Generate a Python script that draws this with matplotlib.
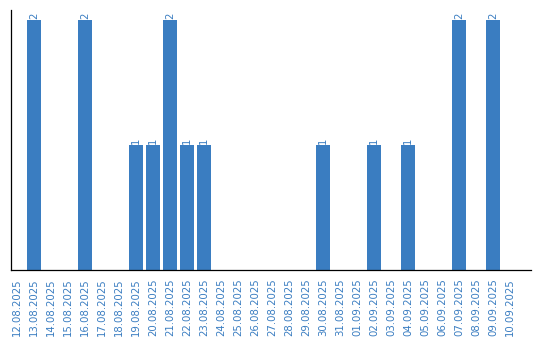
import matplotlib
matplotlib.use("Agg")
import matplotlib.pyplot as plt

dates = ["12.08.2025", "13.08.2025", "14.08.2025", "15.08.2025", "16.08.2025",
         "17.08.2025", "18.08.2025", "19.08.2025", "20.08.2025", "21.08.2025",
         "22.08.2025", "23.08.2025", "24.08.2025", "25.08.2025", "26.08.2025",
         "27.08.2025", "28.08.2025", "29.08.2025", "30.08.2025", "31.08.2025",
         "01.09.2025", "02.09.2025", "03.09.2025", "04.09.2025", "05.09.2025",
         "06.09.2025", "07.09.2025", "08.09.2025", "09.09.2025", "10.09.2025"]
counts = [0, 2, 0, 0, 2, 0, 0, 1, 1, 2, 1, 1, 0, 0, 0,
          0, 0, 0, 1, 0, 0, 1, 0, 1, 0, 0, 2, 0, 2, 0]

color = "#3a7dc1"
W, H = 540, 340
fig = plt.figure(figsize=(W / 100, H / 100), dpi=100)
ax = fig.add_axes([11 / W, (H - 270) / H, (531 - 11) / W, (270 - 10) / H])

x = list(range(len(dates)))
ax.bar(x, counts, width=14 / 17, color=color)
for xi, v in zip(x, counts):
    if v > 0:
        ax.text(xi, v + 0.01, str(v), rotation=90, ha="center", va="bottom",
                color=color, fontsize=7.3)

ax.set_xlim(-6 / 17, 30.24)
ax.set_ylim(0, 2.08)
ax.set_xticks(x)
ax.set_xticklabels(dates, rotation=90, color=color, fontsize=7.3)
ax.tick_params(axis="x", length=0, pad=6)
ax.set_yticks([])
for s in ["top", "right"]:
    ax.spines[s].set_visible(False)
for s in ["left", "bottom"]:
    ax.spines[s].set_color("black")
    ax.spines[s].set_linewidth(0.9)

fig.savefig("out.png", dpi=100)
